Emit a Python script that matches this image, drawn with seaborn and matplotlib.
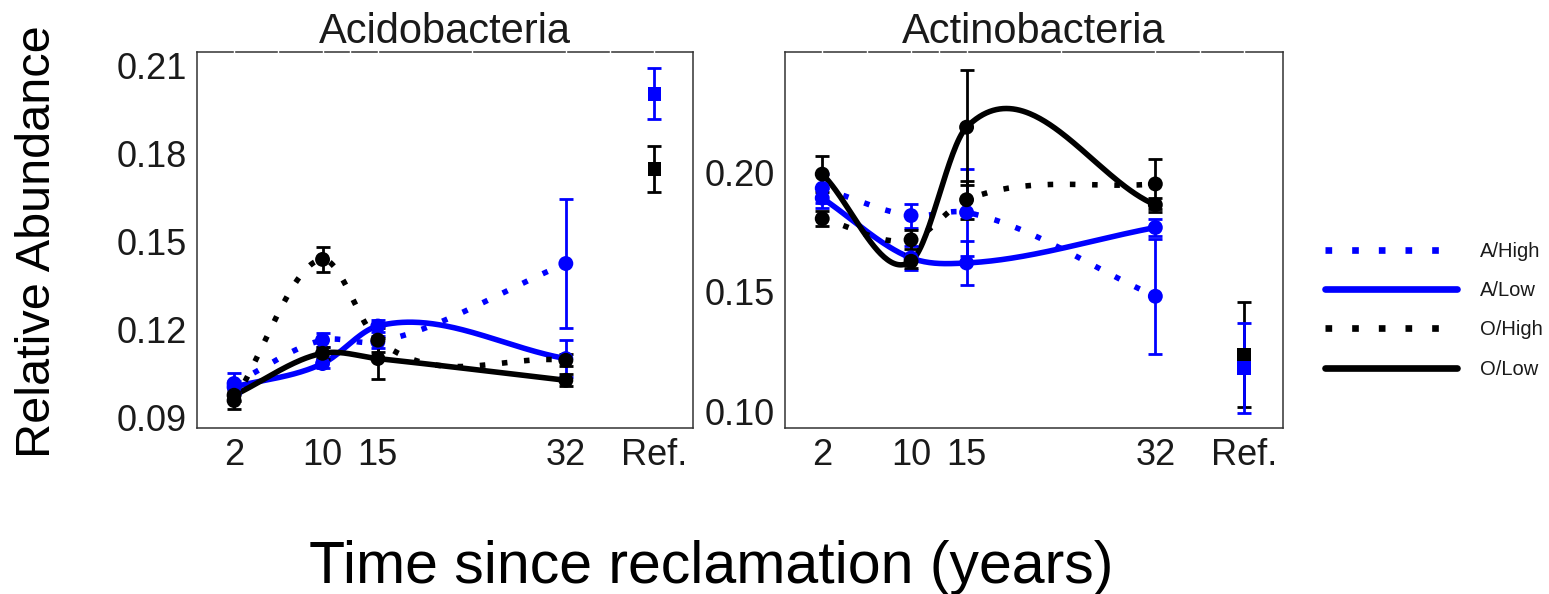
import numpy as np
import pandas as pd
import matplotlib
matplotlib.use("Agg")
import matplotlib.pyplot as plt
import seaborn as sns
from matplotlib.lines import Line2D
from matplotlib.ticker import FormatStrFormatter

# ---------------------------------------------------------------------------
# Data
# ---------------------------------------------------------------------------
YEARS = [2, 10, 15, 32]
X_TICK_LABELS = ["2", "10", "15", "32", "Ref."]
GROUPS = ["A/High", "A/Low", "O/High", "O/Low"]

ACIDO_MEAN = {
    "A/High": [0.1015, 0.1163, 0.1157, 0.1424],
    "A/Low":  [0.1003, 0.1083, 0.1211, 0.1100],
    "O/High": [0.0957, 0.1438, 0.1163, 0.1094],
    "O/Low":  [0.0975, 0.1118, 0.1100, 0.1026],
}
ACIDO_ERR = {
    "A/High": [0.0035, 0.0025, 0.0020, 0.0220],
    "A/Low":  [0.0020, 0.0015, 0.0020, 0.0063],
    "O/High": [0.0030, 0.0043, 0.0040, 0.0020],
    "O/Low":  [0.0020, 0.0020, 0.0070, 0.0020],
}
ACIDO_REF_MEAN = {"O": 0.1747, "A": 0.2002}
ACIDO_REF_ERR = {"O": 0.0079, "A": 0.0087}

ACTINO_MEAN = {
    "A/High": [0.1933, 0.1819, 0.1832, 0.1482],
    "A/Low":  [0.1892, 0.1642, 0.1621, 0.1769],
    "O/High": [0.1806, 0.1718, 0.1885, 0.1951],
    "O/Low":  [0.1992, 0.1628, 0.2188, 0.1864],
}
ACTINO_ERR = {
    "A/High": [0.0060, 0.0050, 0.0180, 0.0240],
    "A/Low":  [0.0040, 0.0050, 0.0090, 0.0035],
    "O/High": [0.0030, 0.0040, 0.0080, 0.0105],
    "O/Low":  [0.0076, 0.0030, 0.0240, 0.0030],
}
ACTINO_REF_MEAN = {"O": 0.1239, "A": 0.1183}
ACTINO_REF_ERR = {"O": 0.0220, "A": 0.0187}

# ---------------------------------------------------------------------------
# Style
# ---------------------------------------------------------------------------
REF_POS = 40
PALETTE = {"A/High": "#0000FF", "A/Low": "#0000FF",
           "O/High": "#000000", "O/Low": "#000000",
           "A": "#0000FF", "O": "#000000"}
DASHES = {"A/High": (1, 3), "A/Low": "", "O/High": (1, 3), "O/Low": ""}
FRAME = "#333333"

sns.set_style("white")
plt.rcParams["font.family"] = ["Liberation Sans", "DejaVu Sans"]


def smooth_curve(x, y, n=200):
    """Cubic Hermite smoother through the group means (finite-difference slopes)."""
    x = np.asarray(x, float)
    y = np.asarray(y, float)
    s = np.diff(y) / np.diff(x)
    m = np.empty_like(y)
    m[0], m[-1] = s[0], s[-1]
    m[1:-1] = (s[:-1] + s[1:]) / 2
    xs = np.linspace(x[0], x[-1], n)
    i = np.clip(np.searchsorted(x, xs) - 1, 0, len(x) - 2)
    h = x[i + 1] - x[i]
    t = (xs - x[i]) / h
    ys = ((2 * t**3 - 3 * t**2 + 1) * y[i] + (t**3 - 2 * t**2 + t) * h * m[i]
          + (-2 * t**3 + 3 * t**2) * y[i + 1] + (t**3 - t**2) * h * m[i + 1])
    return xs, ys


def draw_panel(ax, title, mean, err, ref_mean, ref_err, ylim, yticks):
    pts = pd.DataFrame([(g, yr, mean[g][k], err[g][k])
                        for g in GROUPS for k, yr in enumerate(YEARS)],
                       columns=["group", "year", "mean", "err"])
    curves = []
    for g in GROUPS:
        xs, ys = smooth_curve(YEARS, mean[g])
        curves.append(pd.DataFrame({"group": g, "x": xs, "y": ys}))
    curves = pd.concat(curves, ignore_index=True)

    sns.lineplot(data=curves, x="x", y="y", hue="group", style="group",
                 hue_order=GROUPS, style_order=GROUPS, palette=PALETTE,
                 dashes=DASHES, estimator=None, sort=False, lw=4.0,
                 legend=False, ax=ax, zorder=2)

    for g in GROUPS:
        sub = pts[pts.group == g]
        ax.errorbar(sub["year"], sub["mean"], yerr=sub["err"], fmt="none",
                    ecolor=PALETTE[g], elinewidth=2.0, capsize=4.8,
                    capthick=2.0, zorder=3)
    sns.scatterplot(data=pts, x="year", y="mean", hue="group",
                    hue_order=GROUPS, palette=PALETTE, marker="o", s=115,
                    linewidth=0, legend=False, ax=ax, zorder=4)

    ref = pd.DataFrame({"site": list(ref_mean.keys()),
                        "mean": list(ref_mean.values()),
                        "err": [ref_err[k] for k in ref_mean]})
    ref["x"] = REF_POS
    for _, r in ref.iterrows():
        ax.errorbar([r["x"]], [r["mean"]], yerr=[r["err"]], fmt="none",
                    ecolor=PALETTE[r["site"]], elinewidth=2.0, capsize=4.8,
                    capthick=2.0, zorder=3)
    sns.scatterplot(data=ref, x="x", y="mean", hue="site", palette=PALETTE,
                    marker="s", s=95, linewidth=0, legend=False, ax=ax,
                    zorder=4)

    ax.set_xlim(-1.35, 43.5)
    ax.set_ylim(*ylim)
    ax.set_xticks(YEARS + [REF_POS])
    ax.set_xticklabels(X_TICK_LABELS)
    ax.set_yticks(yticks)
    ax.yaxis.set_major_formatter(FormatStrFormatter("%.2f"))
    ax.set_xlabel("")
    ax.set_ylabel("")
    ax.set_title(title, fontsize=30, pad=6.5, color="#1a1a1a")
    ax.tick_params(axis="both", labelsize=26, length=4.7, width=1.1,
                   color=FRAME, labelcolor="#1a1a1a")
    ax.tick_params(axis="x", pad=2.5)
    ax.tick_params(axis="y", pad=2.5)
    for sp in ax.spines.values():
        sp.set_color(FRAME)
        sp.set_linewidth(1.1)
        sp.set_visible(True)
    # white grid breaks showing through the top border
    ax.vlines(YEARS + [REF_POS, 6, 12.5, 23.5, 36], 0.993, 1.007,
              transform=ax.get_xaxis_transform(), colors="white", lw=1.0,
              clip_on=False, zorder=6)


fig = plt.figure(figsize=(15.49, 5.94), dpi=100)
ax1 = fig.add_axes([0.1272, 0.2795, 0.3202, 0.633])
ax2 = fig.add_axes([0.5068, 0.2795, 0.3215, 0.633])

draw_panel(ax1, "Acidobacteria", ACIDO_MEAN, ACIDO_ERR, ACIDO_REF_MEAN,
           ACIDO_REF_ERR, (0.08635, 0.2145), [0.09, 0.12, 0.15, 0.18, 0.21])
draw_panel(ax2, "Actinobacteria", ACTINO_MEAN, ACTINO_ERR, ACTINO_REF_MEAN,
           ACTINO_REF_ERR, (0.0932, 0.2502), [0.10, 0.15, 0.20])

fig.text(0.024, 0.593, "Relative Abundance", rotation=90, ha="center",
         va="center", fontsize=35, color="#000000")
fig.text(0.4593, 0.0185, "Time since reclamation (years)", ha="center",
         va="baseline", fontsize=42.5, color="#000000")

handles = []
for g in GROUPS:
    h = Line2D([], [], color=PALETTE[g], lw=4.8, dash_capstyle="butt")
    if DASHES[g]:
        h.set_dashes(DASHES[g])
    handles.append(h)
fig.legend(handles, GROUPS, loc="center left", bbox_to_anchor=(0.8554, 0.478),
           frameon=False, fontsize=14.5, handlelength=6.56,
           handletextpad=1.14, labelspacing=1.01, borderpad=0,
           borderaxespad=0, labelcolor="#1a1a1a")

fig.savefig("out.png", dpi=100)
